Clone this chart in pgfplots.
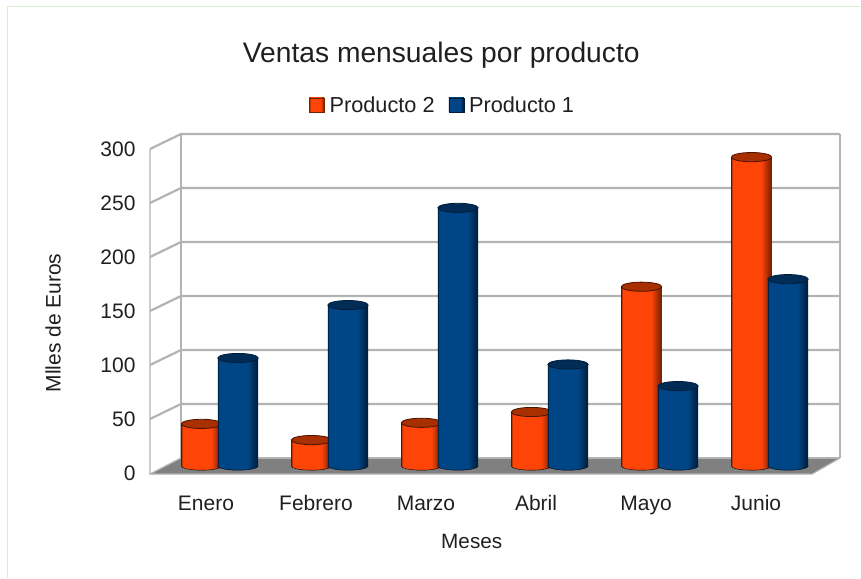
\documentclass[border=0pt]{standalone}
\usepackage{fontspec}
\setmainfont{Liberation Sans}
\usepackage{pgfplots}
\pgfplotsset{compat=1.18}
\definecolor{gridc}{HTML}{B3B3B3}
\definecolor{floorc}{HTML}{808080}
\definecolor{framec}{HTML}{D6F0D0}
\definecolor{oBase}{HTML}{FF4408}
\definecolor{oDark}{HTML}{7A2000}
\definecolor{oTop}{HTML}{A83000}
\definecolor{bBase}{HTML}{004586}
\definecolor{bDark}{HTML}{001E3C}
\definecolor{bTop}{HTML}{002C56}
\pgfdeclarehorizontalshading{cylO}{100bp}{color(0bp)=(oDark); color(25bp)=(oDark); color(26.5bp)=(oBase); color(62bp)=(oBase); color(72bp)=(oDark!85!oBase); color(75bp)=(oDark); color(100bp)=(oDark)}
\pgfdeclarehorizontalshading{cylB}{100bp}{color(0bp)=(bDark); color(25bp)=(bDark); color(26.5bp)=(bBase); color(62bp)=(bBase); color(72bp)=(bDark!85!bBase); color(75bp)=(bDark); color(100bp)=(bDark)}
\pgfdeclareplotmark{topO}{%
  \pgfsetlinewidth{0.8pt}\pgfsetstrokecolor{oDark!60!black}\pgfsetfillcolor{oTop}%
  \pgfpathellipse{\pgfqpoint{-4.5pt}{7pt}}{\pgfqpoint{20.2pt}{0pt}}{\pgfqpoint{0pt}{4.6pt}}%
  \pgfusepath{fill,stroke}}
\pgfdeclareplotmark{topB}{%
  \pgfsetlinewidth{0.8pt}\pgfsetstrokecolor{bDark}\pgfsetfillcolor{bTop}%
  \pgfpathellipse{\pgfqpoint{32pt}{7pt}}{\pgfqpoint{20.2pt}{0pt}}{\pgfqpoint{0pt}{4.6pt}}%
  \pgfusepath{fill,stroke}}
\pgfdeclareplotmark{botO}{%
  \begin{pgfscope}\pgfpathellipse{\pgfqpoint{-4.5pt}{7pt}}{\pgfqpoint{20.2pt}{0pt}}{\pgfqpoint{0pt}{4.2pt}}\pgfshadepath{cylO}{0}\end{pgfscope}}
\pgfdeclareplotmark{botB}{%
  \begin{pgfscope}\pgfpathellipse{\pgfqpoint{32pt}{7pt}}{\pgfqpoint{20.2pt}{0pt}}{\pgfqpoint{0pt}{4.2pt}}\pgfshadepath{cylB}{0}\end{pgfscope}}
% one cylinder: bottom ellipse, shaded body, top ellipse
\newcommand{\cylO}[2]{%
  \addplot[only marks, mark=botO, forget plot] coordinates {(#1,0)};
  \addplot[ybar, bar width=40.4pt, bar shift=-4.5pt, /tikz/yshift=7pt, draw=none, shading=cylO, forget plot] coordinates {(#1,#2)};
  \addplot[only marks, mark=topO, forget plot] coordinates {(#1,#2)};
}
\newcommand{\cylB}[2]{%
  \addplot[only marks, mark=botB, forget plot] coordinates {(#1,0)};
  \addplot[ybar, bar width=40.4pt, bar shift=32pt, /tikz/yshift=7pt, draw=none, shading=cylB, forget plot] coordinates {(#1,#2)};
  \addplot[only marks, mark=topB, forget plot] coordinates {(#1,#2)};
}
\begin{document}
\begin{tikzpicture}[x=1pt,y=1pt]
\path[use as bounding box] (-150,-105) rectangle (711,473);
\begin{axis}[
  at={(0,0)}, anchor=south west,
  scale only axis, width=662pt, height=324pt,
  xmin=-0.509, xmax=5.509, ymin=0, ymax=300,
  clip=false,
  clip marker paths=true,
  axis line style={draw=none},
  major tick length=0pt,
  xtick={0,1,2,3,4,5},
  xticklabels={Enero,Febrero,Marzo,Abril,Mayo,Junio},
  ytick={0,50,100,150,200,250,300},
  /pgf/number format/assume math mode=true,
  tick label style={font=\fontsize{21}{24}\selectfont, text=black!88},
  xticklabel style={text height=15pt, text depth=5pt, yshift=-19pt},
  yticklabel style={xshift=-11pt},
  title={Ventas mensuales por producto},
  title style={at={(axis description cs:0.44,1.272)}, anchor=center, font=\fontsize{28.2}{32}\selectfont, text=black!88},
  xlabel={Meses},
  xlabel style={at={(axis description cs:0.486,-0.21)}, anchor=center, font=\fontsize{20.7}{24}\selectfont, text=black!88},
  ylabel={Mlles de Euros},
  ylabel style={at={(axis description cs:-0.1465,0.463)}, anchor=center, font=\fontsize{21}{24}\selectfont, text=black!88},
  legend style={at={(axis description cs:0.442,1.136)}, anchor=center, draw=none, fill=none,
    legend columns=2, font=\fontsize{21.7}{25}\selectfont, text=black!88,
    /tikz/every even column/.append style={column sep=12pt}},
]
% floor
\addplot[fill=floorc, draw=none, forget plot] coordinates {(-0.509,-1)(-0.227,13.9)(5.764,13.9)(5.509,-1)} -- cycle;
% walls and grid
\addplot[gridc, line width=2.2pt, forget plot] coordinates {(-0.227,13.9)(5.764,13.9)};
\foreach \v in {50,100,150,200,250,300} {
  \pgfmathsetmacro{\w}{\v+13.9}
  \edef\temp{\noexpand\addplot[gridc, line width=2.2pt, forget plot] coordinates {(-0.509,\v)(-0.227,\w)(5.764,\w)};}
  \temp
}
\addplot[gridc, line width=1.2pt, forget plot] coordinates {(-0.509,300)(-0.509,-1)(5.509,-1)(5.764,13.9)};
\addplot[gridc, line width=1.2pt, forget plot] coordinates {(-0.509,-1)(-0.227,13.9)};
\addplot[gridc, line width=2.2pt, forget plot] coordinates {(-0.227,13.9)(-0.227,313.9)};
\addplot[gridc, line width=2.2pt, forget plot] coordinates {(5.764,13.9)(5.764,313.9)};
% legend
\addlegendimage{legend image code/.code={\shade[shading=cylO, draw=oDark, line width=0.6pt] (0pt,-7pt) rectangle (15pt,7pt); \path (18pt,0pt);}}
\addlegendentry{Producto 2}
\addlegendimage{legend image code/.code={\shade[shading=cylB, draw=bDark, line width=0.6pt] (0pt,-7pt) rectangle (15pt,7pt); \path (18pt,0pt);}}
\addlegendentry{Producto 1}
% Producto 2
\cylO{0}{39}
\cylO{1}{24}
\cylO{2}{40}
\cylO{3}{50}
\cylO{4}{166}
\cylO{5}{286}
% Producto 1
\cylB{0}{100}
\cylB{1}{149}
\cylB{2}{239}
\cylB{3}{94}
\cylB{4}{74}
\cylB{5}{173}
\end{axis}
\draw[framec, line width=1pt] (-142,-105) -- (-142,466) -- (711,466);
\end{tikzpicture}
\end{document}
